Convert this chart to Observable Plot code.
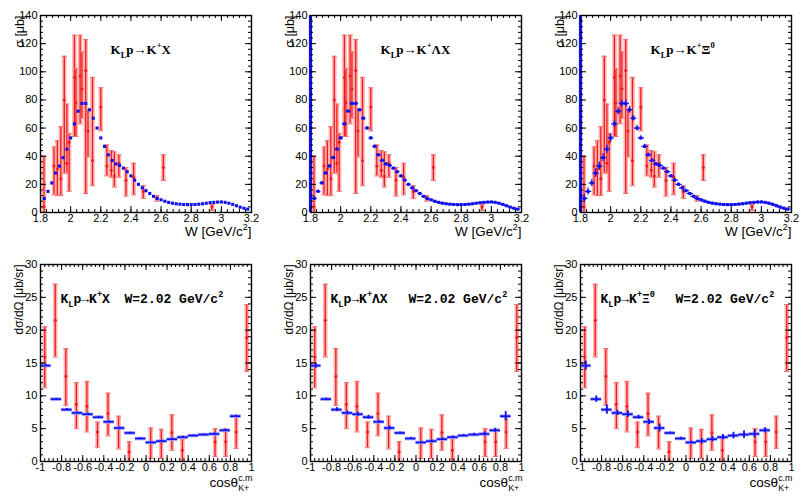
<!DOCTYPE html>
<html><head><meta charset="utf-8">
<script src="https://cdn.jsdelivr.net/npm/d3@7"></script>
<script src="https://cdn.jsdelivr.net/npm/@observablehq/plot@0.6"></script>
<style>
body{margin:0;background:#fff;}
#wrap{position:relative;width:810px;height:498px;overflow:hidden;background:#fff;}
#wrap svg{position:absolute;}
</style></head><body><div id="wrap"></div>
<script>
// ---------- data: top row (sigma vs W) ----------
const topW = [1.825,1.85,1.875,1.9,1.925,1.95,1.975,2.0,2.025,2.05,2.075,2.1,2.125,2.15,2.175,2.2,2.225,2.25,2.275,2.3,2.325,2.35,2.375,2.4,2.425,2.45,2.475,2.5,2.525,2.55,2.575,2.6,2.625,2.65,2.675,2.7,2.725,2.75,2.775,2.8,2.825,2.85,2.875,2.9,2.925,2.95,2.975,3.0,3.025,3.05,3.075,3.1,3.125,3.15,3.175];
const topBlue = [10,15,21,28,33,39,45,53,63,72,77.5,77.5,73,67,60,53,47,41,37,34.5,33.5,31.5,29,26,23,20,17.5,15.5,13.5,11.5,10,9,8,7.2,6.6,6.2,5.9,5.7,5.6,5.6,5.7,5.9,6.2,6.6,7.0,7.2,7.4,7.5,7.2,6.6,5.8,4.8,3.8,3.0,2.4];
const topBlueErr2 = [1.5,1,1,1,1,1,1,1,1,1,1,1,1,1,1,0.8,0.8,0.8,0.8,0.8,0.6,0.6,0.6,0.6,0.6,0.5,0.5,0.5,0.5,0.5,0.4,0.4,0.4,0.4,0.4,0.4,0.4,0.4,0.4,0.4,0.4,0.4,0.4,0.4,0.4,0.4,0.4,0.4,0.4,0.4,0.4,0.4,0.4,0.4,0.4];
const topBlueErr3 = [3,2.5,2.5,3,3,3,3,3,2.5,2.5,2.5,2.5,2.5,2,2,1.5,1.5,1.2,1.2,1,1,1,1,1,1,1,1,0.8,0.8,0.8,0.7,0.7,0.7,0.7,0.7,0.7,0.7,0.7,0.7,0.7,0.7,0.7,0.7,0.7,0.7,0.7,0.7,0.7,0.7,0.7,0.7,0.7,0.7,0.7,0.7];
const blueEdgeW = [1.8];
const redW  = [1.823,1.89,1.912,1.935,1.958,1.975,1.99,2.025,2.035,2.063,2.075,2.1,2.115,2.145,2.2,2.24,2.27,2.29,2.32,2.367,2.418,2.482,2.571,2.615,2.938];
const redY  = [4,33,31,24,80,35,50,96,78,97,88,101,58,37,75,33,30,26,35,23,25,15,10,32,4];
const redLo = [0,12.5,12,12,28,28,15,54,54,63,67,13.5,39.5,19,58,26,25,18,25,11.6,12.5,10,8,22.7,1.4];
const redHi = [40,46.5,51,61,111,77,56,126,102,126,114,123,73,96,88.6,48,44,43,41,32,35,19,12,41,5.7];

// ---------- data: bottom row (dsigma/dOmega vs cos theta) ----------
const cosBins = [-0.95,-0.85,-0.75,-0.65,-0.55,-0.45,-0.35,-0.25,-0.15,-0.05,0.05,0.15,0.25,0.35,0.45,0.55,0.65,0.75,0.85];
const cosBlue12 = [14.6,9.5,7.9,7.4,7.2,6.75,6.05,5.1,4.35,3.5,2.9,3.1,3.4,3.7,3.95,4.1,4.2,4.75,6.9];
const cosBlue3  = [14.6,9.5,7.9,7.4,7.2,6.75,6.05,5.1,4.35,3.5,2.9,3.1,3.4,3.7,3.95,4.1,4.2,4.75,null];
const cosBlueErr1 = [0.15,0.1,0.15,0.15,0.15,0.15,0.15,0.15,0.1,0.1,0.1,0.15,0.15,0.15,0.1,0.1,0.15,0.15,0.15];
const cosBlueErr2 = [0.4,0.15,0.3,0.3,0.3,0.3,0.2,0.3,0.15,0.15,0.15,0.2,0.2,0.2,0.15,0.2,0.3,0.3,0.7];
const cosBlueErr3 = [0.7,0.5,0.7,0.4,0.5,0.3,0.4,0.6,0.15,0.2,0.2,0.4,0.4,0.4,0.5,0.6,0.6,0.4,null];
const cosBinHalf = 0.05;
const cosRedX  = [-0.96,-0.86,-0.76,-0.66,-0.56,-0.46,-0.36,-0.26,-0.16,0.045,0.145,0.245,0.345,0.655,0.755,0.855,0.955];
const cosRedY  = [15.9,21.5,13,8.7,8.4,4.5,7.3,5,1.5,2.9,2.9,4.4,1.7,3,3,4.5,18.9];
const cosRedLo = [11.2,15.9,8.5,5,4.5,2.1,3.9,1.9,0,0.45,0.45,1.7,0,0.76,0.76,2.0,13.7];
const cosRedHi = [20.5,27,17.2,12,12.2,6,10.4,6.9,3,5.1,4.9,7.1,3.3,5.0,5.0,6.9,23.9];

// ---------- ticks & labels ----------
const wTicks = [1.8,2,2.2,2.4,2.6,2.8,3,3.2];
const sigmaTicks = [0,20,40,60,80,100,120,140];
const cosTicks = [-1,-0.8,-0.6,-0.4,-0.2,0,0.2,0.4,0.6,0.8,1];
const dsTicks = [0,5,10,15,20,25,30];
const wMinor = d3.range(0,36).map(i => 1.8 + i*0.04);
const sigmaMinor = d3.range(0,141,4);
const cosMinor = d3.range(0,51).map(i => -1 + i*0.04);
const dsMinor = d3.range(0,31,1);
const reactions = ["K_{L}p→K^{+}X","K_{L}p→K^{+}ΛX","K_{L}p→K^{+}Ξ^{0}"];
const wLabel = "W=2.02 GeV/c^{2}";
const topXTitle = "W [GeV/c^{2}]", topYTitle = "σ [μb]";
const botXTitle = "cosθ^{c.m}_{K+}", botYTitle = "dσ/dΩ [μb/sr]";

// ---------- layout ----------
const W = 270, H = 249, ML = 40, MR = 19, MT = 15, MB = 37;
const PH = H - MT - MB, PW = W - ML - MR;
const RED = "#f01c1c", PINK = "#ffb4b4", BLUE = "#1010ee", PALEBLUE = "#9a9aff";
const hline = {draw(ctx, size){ const r = Math.sqrt(size/Math.PI); ctx.moveTo(-r,0); ctx.lineTo(r,0); }};

function frameTicks(xMaj, xMin, yMaj, yMin) {
  const maj = 6, mn = 3, s = {stroke: "black", strokeWidth: 1};
  return [
    Plot.tickX(xMaj, {x: d=>d, insetTop: PH-maj, ...s}),
    Plot.tickX(xMaj, {x: d=>d, insetBottom: PH-maj, ...s}),
    Plot.tickX(xMin, {x: d=>d, insetTop: PH-mn, ...s}),
    Plot.tickX(xMin, {x: d=>d, insetBottom: PH-mn, ...s}),
    Plot.tickY(yMaj, {y: d=>d, insetRight: PW-maj, ...s}),
    Plot.tickY(yMaj, {y: d=>d, insetLeft: PW-maj, ...s}),
    Plot.tickY(yMin, {y: d=>d, insetRight: PW-mn, ...s}),
    Plot.tickY(yMin, {y: d=>d, insetLeft: PW-mn, ...s})
  ];
}
function redMarks(data) {
  return [
    Plot.ruleX(data, {x:"x", y1:"lo", y2:"hi", stroke: PINK, strokeWidth: 4.5, clip: true}),
    Plot.ruleX(data, {x:"x", y1:"lo", y2:"hi", stroke: RED, strokeWidth: 1.3, clip: true}),
    Plot.dot(data, {x:"x", y:"lo", symbol: hline, r: 2.6, fill: "none", stroke: "#f27070", strokeWidth: 1, clip: true}),
    Plot.dot(data, {x:"x", y:"hi", symbol: hline, r: 2.6, fill: "none", stroke: "#f27070", strokeWidth: 1, clip: true}),
    Plot.dot(data, {x:"x", y:"v", r: 1.5, fill: RED, stroke: "none", clip: true})
  ];
}
const NS = "http://www.w3.org/2000/svg";
function richify(svg) {
  svg.querySelectorAll("text").forEach(t => {
    const s = t.textContent;
    if (!/[\^_]\{/.test(s) || t.querySelector("tspan")) return;
    const base = parseFloat(getComputedStyle(t).fontSize) || 12;
    t.textContent = "";
    const parts = s.split(/(\^\{[^}]*\}|_\{[^}]*\})/).filter(p => p);
    let cur = 0, prev = null;
    for (const p of parts) {
      const ts = document.createElementNS(NS, "tspan");
      let off = 0, kind = "n";
      if (p[0] === "^") { kind = "^"; off = -0.42*base; ts.textContent = p.slice(2,-1); ts.setAttribute("font-size", 0.66*base); }
      else if (p[0] === "_") { kind = "_"; off = 0.3*base; ts.textContent = p.slice(2,-1); ts.setAttribute("font-size", 0.66*base); }
      else ts.textContent = p;
      ts.setAttribute("dy", off - cur); cur = off;
      t.appendChild(ts);
      if (kind === "_" && prev && prev.kind === "^") ts.setAttribute("dx", -prev.el.getComputedTextLength());
      prev = {kind, el: ts};
    }
  });
}
const wrap = document.getElementById("wrap");
function place(svg, col, row) {
  svg.style.left = (col*270) + "px";
  svg.style.top = (row*249) + "px";
  wrap.appendChild(svg);
  richify(svg);
}
const style = {fontFamily: "'Liberation Sans', Arial, sans-serif", fontSize: "11px", background: "white", overflow: "visible"};

// ---------- top row ----------
const redData = redW.map((x,i) => ({x, v: redY[i], lo: redLo[i], hi: redHi[i]}));
[0,1,2].forEach(k => {
  const errs = [null, topBlueErr2, topBlueErr3][k];
  const blue = topW.map((x,i) => ({x, v: topBlue[i], e: errs ? errs[i] : 0}));
  const marks = [
    ...redMarks(redData),
    errs ? Plot.ruleX(blue, {x:"x", y1: d=>d.v-d.e, y2: d=>d.v+d.e, stroke: BLUE, strokeWidth: 1.2, clip: true}) : null,
    errs ? Plot.dot(blue, {x:"x", y:"v", symbol: hline, r: k===2?3.2:2.4, fill:"none", stroke: BLUE, strokeWidth: 1.2, clip: true}) : null,
    Plot.dot(blue, {x:"x", y:"v", symbol:"square", r: 1.75, fill: BLUE, stroke: "none", clip: true}),
    Plot.frame({stroke: "black", strokeWidth: 1.4}),
    k > 0 ? Plot.ruleX(blueEdgeW, {x: d=>d, y1: 0, y2: 140, stroke: BLUE, strokeWidth: 3.2}) : null,
    ...frameTicks(wTicks, wMinor, sigmaTicks, sigmaMinor),
    Plot.axisX({ticks: wTicks, tickSize: 0, tickPadding: 2, tickFormat: d => String(d), label: null, fontSize: 11}),
    Plot.axisY({ticks: sigmaTicks, tickSize: 0, tickPadding: 3, tickFormat: d => String(d), label: null, fontSize: 11}),
    Plot.text([topXTitle], {frameAnchor: "bottom-right", dy: 19, dx: 0, textAnchor: "end", lineAnchor: "middle", fontSize: 13.5}),
    Plot.text([topYTitle], {frameAnchor: "top-left", rotate: -90, dx: -21, textAnchor: "end", lineAnchor: "middle", fontSize: 12.5}),
    Plot.text([reactions[k]], {frameAnchor: "top-left", dx: 70, dy: 34, textAnchor: "start", lineAnchor: "middle", fontSize: 13, fontWeight: "bold", fontFamily: "'Liberation Serif', 'Times New Roman', serif"})
  ].filter(Boolean);
  place(Plot.plot({width: W, height: H, marginLeft: ML, marginRight: MR, marginTop: MT, marginBottom: MB,
    x: {domain: [1.8, 3.2]}, y: {domain: [0, 140]}, style, marks}), k, 0);
});

// ---------- bottom row ----------
const cosRed = cosRedX.map((x,i) => ({x, v: cosRedY[i], lo: cosRedLo[i], hi: cosRedHi[i]}));
const wLabelDx = [84, 98, 95];
[0,1,2].forEach(k => {
  const vals = k === 2 ? cosBlue3 : cosBlue12;
  const errs = [cosBlueErr1, cosBlueErr2, cosBlueErr3][k];
  const blue = cosBins.map((x,i) => ({x, v: vals[i], e: errs[i]})).filter(d => d.v != null);
  const marks = [
    ...redMarks(cosRed),
    Plot.ruleY(blue, {y:"v", x1: d=>d.x-cosBinHalf, x2: d=>d.x+cosBinHalf, stroke: PALEBLUE, strokeWidth: 3.5, clip: true}),
    Plot.ruleX(blue, {x:"x", y1: d=>d.v-d.e, y2: d=>d.v+d.e, stroke: BLUE, strokeWidth: 1.8, clip: true}),
    Plot.ruleY(blue, {y:"v", x1: d=>d.x-cosBinHalf, x2: d=>d.x+cosBinHalf, stroke: BLUE, strokeWidth: 1.6, clip: true}),
    Plot.frame({stroke: "black", strokeWidth: 1.4}),
    ...frameTicks(cosTicks, cosMinor, dsTicks, dsMinor),
    Plot.axisX({ticks: cosTicks, tickSize: 0, tickPadding: 2, tickFormat: d => String(d), label: null, fontSize: 11}),
    Plot.axisY({ticks: dsTicks, tickSize: 0, tickPadding: 3, tickFormat: d => String(d), label: null, fontSize: 11}),
    Plot.text([botXTitle], {frameAnchor: "bottom-right", dy: 21, dx: 1, textAnchor: "end", lineAnchor: "middle", fontSize: 13.5}),
    Plot.text([botYTitle], {frameAnchor: "top-left", rotate: -90, dx: -21, textAnchor: "end", lineAnchor: "middle", fontSize: 12}),
    Plot.text([reactions[k]], {frameAnchor: "top-left", dx: 20, dy: 34, textAnchor: "start", lineAnchor: "middle", fontSize: 13, fontWeight: "bold", fontFamily: "'Liberation Mono', 'Courier New', monospace"}),
    Plot.text([wLabel], {frameAnchor: "top-left", dx: wLabelDx[k], dy: 34, textAnchor: "start", lineAnchor: "middle", fontSize: 13, fontWeight: "bold", fontFamily: "'Liberation Mono', 'Courier New', monospace"})
  ];
  place(Plot.plot({width: W, height: H, marginLeft: ML, marginRight: MR, marginTop: MT, marginBottom: MB,
    x: {domain: [-1, 1]}, y: {domain: [0, 30]}, style, marks}), k, 1);
});
</script></body></html>
